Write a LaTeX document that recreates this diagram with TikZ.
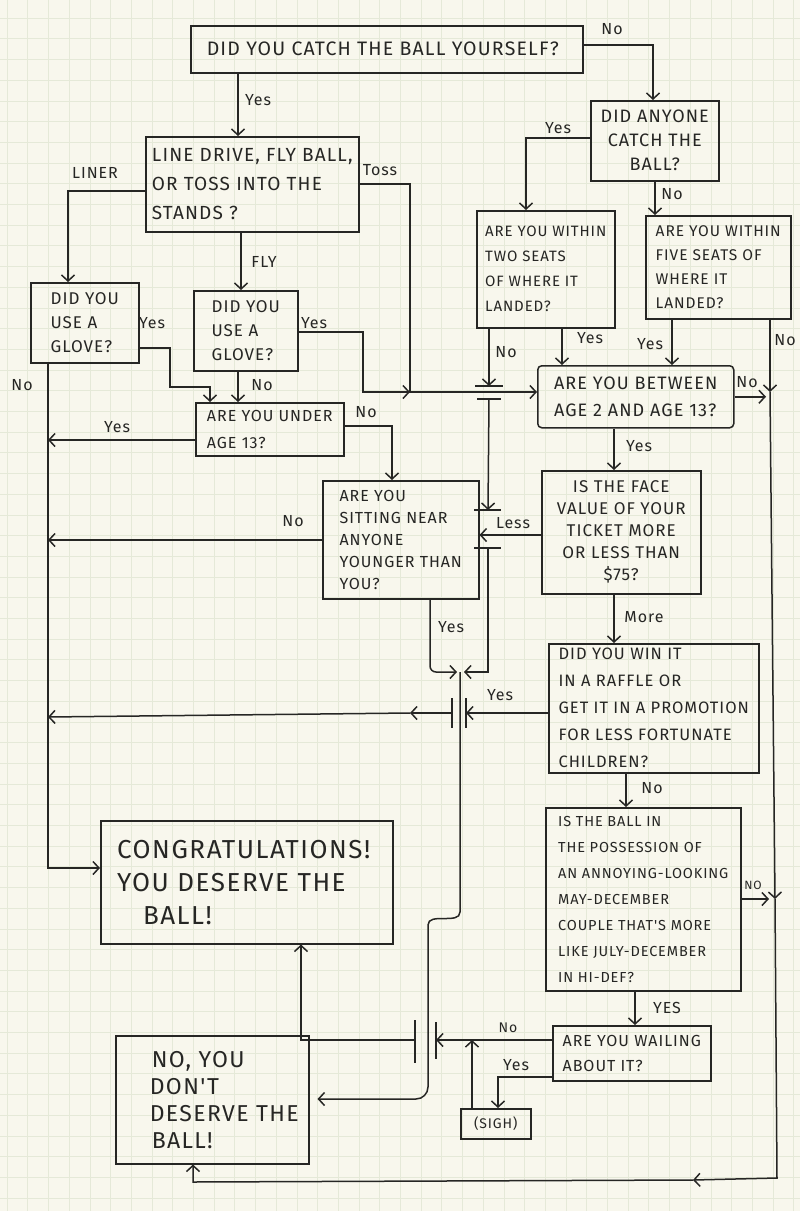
\documentclass[tikz,border=0pt]{standalone}
\usepackage{fontspec}
\setmainfont{Fira Sans}
\newfontfamily\hand[LetterSpace=6]{Fira Sans}
\newcommand\hfs[2]{\hand\fontsize{#1}{#2}\selectfont}
\usetikzlibrary{arrows.meta}
\definecolor{paper}{RGB}{248,247,237}
\definecolor{gridc}{RGB}{229,233,216}
\definecolor{ink}{RGB}{38,38,36}
\tikzset{
  box/.style={draw=ink, line width=1.5pt, inner xsep=6pt, inner ysep=0pt, anchor=north west, align=left, text=ink},
  lab/.style={text=ink, inner sep=1pt, font=\hfs{16}{18}},
  conn/.style={draw=ink, line width=1.5pt},
  arr/.style={conn, -{Straight Barb[length=6pt,width=13pt,line width=1.5pt]}},
  barline/.style={draw=ink, line width=1.6pt},
}
\begin{document}
\begin{tikzpicture}[x=1pt,y=-1pt]
\useasboundingbox (0,0) rectangle (800,1211);
\fill[paper] (0,0) rectangle (800,1211);
\foreach \i in {0,...,38} \draw[gridc, line width=0.5pt] (7+\i*20.7,0) -- (7+\i*20.7,1211);
\foreach \j in {0,...,58} \draw[gridc, line width=0.5pt] (0,18+\j*20.7) -- (800,18+\j*20.7);

% boxes
\node[box, minimum width=392pt, minimum height=47pt, font=\hfs{19.5}{22}] (top) at (190,25) {DID YOU CATCH THE BALL YOURSELF?\hspace*{8pt}};
\node[box, minimum width=213pt, minimum height=95pt, font=\hfs{19}{29}] (b2) at (145,136) {LINE DRIVE, FLY BALL,\\OR TOSS INTO THE\\STANDS ?};
\node[box, minimum width=108pt, minimum height=80pt, font=\hfs{17}{24}] (lg) at (30,282) {DID YOU\\USE A\\GLOVE?};
\node[box, minimum width=104pt, minimum height=80pt, font=\hfs{17}{24}] (fg) at (193,290) {DID YOU\\USE A\\GLOVE?};
\node[box, minimum width=148pt, minimum height=53pt, font=\hfs{16}{27}] (u13) at (195,402) {ARE YOU UNDER\\AGE 13?};
\node[box, minimum width=156pt, minimum height=118pt, font=\hfs{16}{22}] (sit) at (322,480) {ARE YOU\\SITTING NEAR\\ANYONE\\YOUNGER THAN\\YOU?};
\node[box, minimum width=128pt, minimum height=80pt, align=center, font=\hfs{18}{24}] (any) at (590,100) {DID ANYONE\\CATCH THE\\BALL?};
\node[box, minimum width=138pt, minimum height=117pt, font=\hfs{15}{25}] (two) at (476,210) {ARE YOU WITHIN\\TWO SEATS\\OF WHERE IT\\LANDED?};
\node[box, minimum width=145pt, minimum height=103pt, font=\hfs{15.5}{24}] (five) at (645,215) {ARE YOU WITHIN\\FIVE SEATS OF\\WHERE IT\\LANDED?};
\node[box, minimum width=196pt, minimum height=62pt, rounded corners=4pt, font=\hfs{18}{27}] (btw) at (537,365) {ARE YOU BETWEEN\\AGE 2 AND AGE 13?};
\node[box, minimum width=159pt, minimum height=123pt, align=center, font=\hfs{17}{22}] (face) at (541,470) {IS THE FACE\\VALUE OF YOUR\\TICKET MORE\\OR LESS THAN\\\$75?};
\node[box, minimum width=210pt, minimum height=129pt, font=\hfs{16.5}{27}] (raffle) at (548,643) {DID YOU WIN IT\\IN A RAFFLE OR\\GET IT IN A PROMOTION\\FOR LESS FORTUNATE\\CHILDREN?};
\node[box, minimum width=195pt, minimum height=183pt, font=\hfs{14.5}{26}] (may) at (545,807) {IS THE BALL IN\\THE POSSESSION OF\\AN ANNOYING-LOOKING\\MAY-DECEMBER\\COUPLE THAT'S MORE\\LIKE JULY-DECEMBER\\IN HI-DEF?};
\node[box, minimum width=158pt, minimum height=55pt, font=\hfs{16}{25}] (wail) at (552,1025) {ARE YOU WAILING\\ABOUT IT?};
\node[box, minimum width=70pt, minimum height=30pt, align=center, font=\hfs{14}{16}] (sigh) at (460,1108) {(SIGH)};
\node[box, minimum width=292pt, minimum height=123pt, font=\hfs{26}{33}] (cong) at (100,820) {CONGRATULATIONS!\hspace*{6pt}\\YOU DESERVE THE\\\hspace*{26pt}BALL!};
\node[box, minimum width=193pt, minimum height=128pt, inner xsep=2pt, font=\hfs{23}{27}] (nodeser) at (115,1035) {\hspace*{26pt}NO, YOU\\\hspace*{24pt}DON'T\\\hspace*{24pt}DESERVE THE\\\hspace*{26pt}BALL!};

% helper coordinates
\coordinate (tossc) at (410,392);
\coordinate (x1) at (489,386);
\coordinate (x2) at (489,399);
\coordinate (x3) at (488,510);
\coordinate (x4) at (488,548);
\coordinate (junc) at (460,672);
\coordinate (x5) at (452,713);
\coordinate (x6) at (466,713);
\coordinate (ry) at (410,713);
\coordinate (x7) at (415,1040);
\coordinate (x8) at (436,1040);
\coordinate (l1) at (48,440);
\coordinate (l2) at (48,540);
\coordinate (l3) at (48,717);
\coordinate (l4) at (48,868);
\coordinate (r1) at (770,392);
\coordinate (r2) at (775,899);
\coordinate (r3) at (777,1178);
\coordinate (r4) at (693,1180);
\coordinate (r5) at (193,1182);

% bars (crossing marks)
\draw[barline] ([xshift=-14pt]x1) -- ([xshift=14pt]x1);
\draw[barline] ([xshift=-12pt]x2) -- ([xshift=12pt]x2);
\draw[barline] ([xshift=-14pt]x3) -- ([xshift=13pt]x3);
\draw[barline] ([xshift=-14pt]x4) -- ([xshift=13pt]x4);
\draw[barline] ([yshift=15pt]x5) -- ([yshift=-15pt]x5);
\draw[barline] ([yshift=15pt]x6) -- ([yshift=-15pt]x6);
\draw[barline] ([yshift=20pt]x7) -- ([yshift=-23pt]x7);
\draw[barline] ([yshift=18pt]x8) -- ([yshift=-19pt]x8);

% connectors
\draw[arr] (top.south -| 238,0) -- (b2.north -| 238,0);
\draw[arr] (top.east |- 0,45) -| (any.north -| 653,0);
\draw[arr] (b2.west |- 0,191) -| (lg.north -| 68,0);
\draw[arr] (b2.south -| 241,0) -- (fg.north -| 241,0);
\draw[arr] (b2.east |- 0,184) -| (tossc) -- (btw.west |- tossc);
\draw[arr] (fg.east |- 0,332) -| ([xshift=-47pt]tossc) -- (tossc);
\draw[arr] (lg.east |- 0,348) -| (170,387) -| (u13.north -| 210,0);
\draw[arr] (lg.south -| l4) -- (l4) -- (cong.west |- l4);
\draw[arr] (fg.south -| 238,0) -- (u13.north -| 238,0);
\draw[arr] (u13.west |- l1) -- (l1);
\draw[arr] (u13.east |- 0,426) -| (sit.north -| 392,0);
\draw[arr] (sit.west |- l2) -- (l2);
\draw[arr, rounded corners=6pt, shorten >=3pt] (sit.south -| 430,0) |- (junc);
\draw[arr] (any.west |- 0,138) -| (two.north -| 526,0);
\draw[arr] (any.south -| 655,0) -- (five.north -| 655,0);
\draw[arr] (two.south -| 562,0) -- (btw.north -| 562,0);
\draw[arr] (two.south -| x1) -- (x1);
\draw[arr] (x2) -- (x3);
\draw[arr, shorten >=4pt] (x4) -- (x4 |- junc) -- (junc);
\draw[arr] (five.south -| 672,0) -- (btw.north -| 672,0);
\draw[arr] (five.south -| r1) -- (r1);
\draw[arr] (r1) -- (r2);
\draw[arr] (r2) -- (r3) -- (r4);
\draw[arr] (r4) -- (r5) -- (nodeser.south -| r5);
\draw[arr, shorten >=4pt] (btw.east) -- (btw.east -| r1);
\draw[arr] (btw.south -| 614,0) -- (face.north -| 614,0);
\draw[arr] (face.west |- 0,535) -- (sit.east |- 0,535);
\draw[arr] (face.south -| 614,0) -- (raffle.north -| 614,0);
\draw[arr] (raffle.west |- x6) -- (x6);
\draw[arr] (x5) -- (ry);
\draw[arr] (ry) -- (l3);
\draw[arr] (raffle.south -| 626,0) -- (may.north -| 626,0);
\draw[arr, shorten >=6pt] (may.east |- r2) -- (r2);
\draw[arr] (may.south -| 635,0) -- (wail.north -| 635,0);
\draw[arr] (wail.west |- x8) -- (x8);
\draw[arr] (x7) -| (cong.south -| 301,0);
\draw[arr] (wail.west |- 0,1077) -| (sigh.north -| 498,0);
\draw[arr] (sigh.north -| 472,0) -- (x8 -| 472,0);
\draw[arr, rounded corners=12pt, shorten >=8pt] (junc) -- (460,900) .. controls (460,925) and (428,912) .. (428,937) |- (nodeser.east |- 0,1099);

% labels
\node[lab] (t1) at (612,29) {No};
\node[lab] (t2) at (258,100) {Yes};
\node[lab] (t3) at (95,173) {LINER};
\node[lab] (t4) at (380,170) {Toss};
\node[lab] (t5) at (264,262) {FLY};
\node[lab] (t6) at (558,128) {Yes};
\node[lab] (t7) at (672,194) {No};
\node[lab] (t8) at (152,323) {Yes};
\node[lab] (t9) at (314,323) {Yes};
\node[lab] (t10) at (22,385) {No};
\node[lab] (t11) at (262,385) {No};
\node[lab] (t12) at (117,427) {Yes};
\node[lab] (t13) at (366,412) {No};
\node[lab] (t14) at (506,352) {No};
\node[lab] (t15) at (590,338) {Yes};
\node[lab] (t16) at (650,344) {Yes};
\node[lab] (t17) at (785,340) {No};
\node[lab] (t18) at (747,382) {No};
\node[lab] (t19) at (639,446) {Yes};
\node[lab] (t20) at (293,521) {No};
\node[lab] (t21) at (513,523) {Less};
\node[lab] (t22) at (451,627) {Yes};
\node[lab] (t23) at (644,617) {More};
\node[lab] (t24) at (500,695) {Yes};
\node[lab] (t25) at (652,788) {No};
\node[lab, font=\hfs{12}{14}] (t26) at (753,885) {NO};
\node[lab] (t27) at (667,1008) {YES};
\node[lab, font=\hfs{14}{16}] (t28) at (508,1028) {No};
\node[lab] (t29) at (516,1065) {Yes};
\end{tikzpicture}
\end{document}
